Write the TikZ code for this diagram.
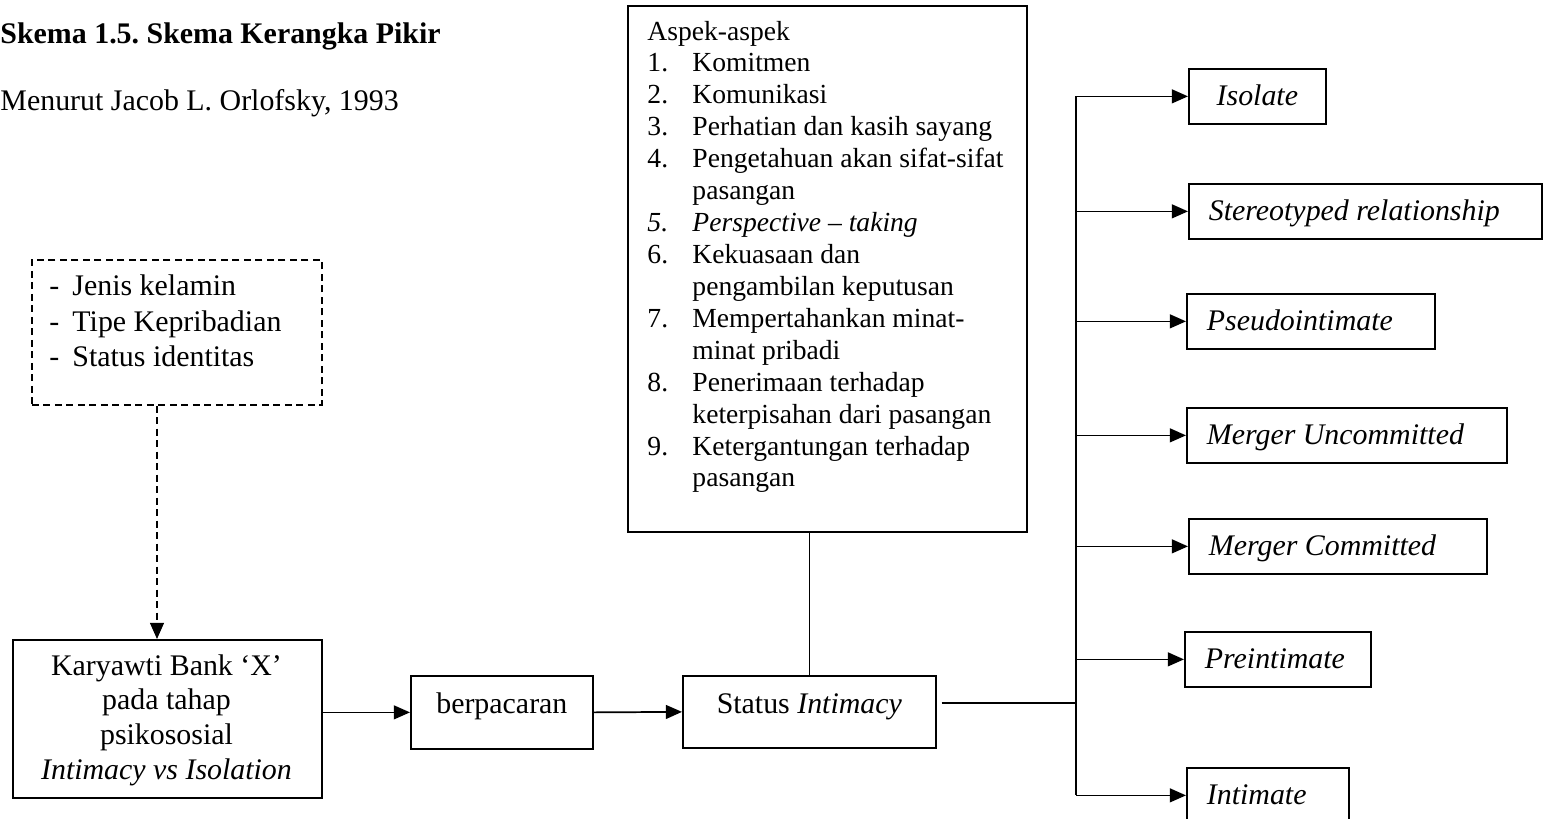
\documentclass[tikz,border=0pt]{standalone}
\usepackage{fontspec}
\setmainfont{Liberation Serif}
\usetikzlibrary{arrows.meta}
\frenchspacing
\def\PX{0.4348pt}
\newcommand\aspnum[1]{\makebox[19.57pt][l]{#1}}
\newcommand\aspind{\hspace*{19.57pt}}
\newcommand\facdash{\makebox[10pt][l]{-}}
\tikzset{
  box/.style={draw, line width=0.75pt, inner sep=0pt, anchor=north west},
  facbox/.style={box, dash pattern=on 3pt off 2pt},
  ln/.style={line width=0.75pt},
  arr/.style={line width=0.75pt, -{Triangle[length=7pt,width=6pt]}},
  rb/.style={box, font=\itshape\fontsize{13}{15}\selectfont, minimum height=23.91pt,
    inner xsep=8.7pt, inner ysep=0pt, text height=8.26pt, text depth=0pt, align=flush left},
}
\begin{document}
\begin{tikzpicture}[x=\PX, y=-\PX, font=\fontsize{13}{15}\selectfont]
\clip (0,0) rectangle (1543,818);

% titles
\node[anchor=base west, inner sep=0pt, font=\bfseries\fontsize{13}{15}\selectfont] (title) at (0,43) {Skema 1.5. Skema Kerangka Pikir};
\node[anchor=base west, inner sep=0pt] (sub) at (0,110) {Menurut Jacob L. Orlofsky, 1993};

% dashed factors box
\node[facbox, minimum width=126.09pt, minimum height=63.05pt] (fac) at (31,259) {};
\node[anchor=base west, inner sep=0pt] (factxt) at (49,295) {\parbox[t]{113pt}{\fontsize{13}{15.65}\selectfont
  \facdash Jenis kelamin\\
  \facdash Tipe Kepribadian\\
  \facdash Status identitas}};

% left box
\node[box, minimum width=134.35pt, minimum height=68.70pt] (kar) at (12,639) {};
\node[anchor=base, inner sep=0pt] (kartxt) at (166.5,675) {\parbox[t]{130pt}{\centering\fontsize{13}{15.2}\selectfont
  Karyawti Bank ‘X’\\ pada tahap\\ psikososial\\ \textit{Intimacy vs Isolation}}};

% berpacaran
\node[box, minimum width=79.13pt, minimum height=31.74pt, text height=1.3pt, text depth=0pt] (pac) at (410,675) {berpacaran};

% status
\node[box, minimum width=110.0pt, minimum height=31.31pt, text height=1.74pt, text depth=0pt] (stat) at (682,675) {Status \textit{Intimacy}};

% aspects box
\node[box, minimum width=173.49pt, minimum height=228.71pt] (asp) at (627,5) {};
\node[anchor=base west, inner sep=0pt] (asptxt) at (647,40) {\parbox[t]{165pt}{\raggedright\fontsize{12}{13.88}\selectfont
  Aspek-aspek\\
  \aspnum{1.}Komitmen\\
  \aspnum{2.}Komunikasi\\
  \aspnum{3.}Perhatian dan kasih sayang\\
  \aspnum{4.}Pengetahuan akan sifat-sifat\\
  \aspind pasangan\\
  \textit{\aspnum{5.}Perspective – taking}\\
  \aspnum{6.}Kekuasaan dan\\
  \aspind pengambilan keputusan\\
  \aspnum{7.}Mempertahankan minat-\\
  \aspind minat pribadi\\
  \aspnum{8.}Penerimaan terhadap\\
  \aspind keterpisahan dari pasangan\\
  \aspnum{9.}Ketergantungan terhadap\\
  \aspind pasangan}};

% right boxes
\node[rb, align=flush center, text width=42.17pt, minimum width=59.57pt] (iso) at (1188,68) {Isolate};
\node[rb, text width=136.08pt] (ster) at (1188,183) {Stereotyped relationship};
\node[rb, text width=90.43pt] (pseu) at (1186,293) {Pseudointimate};
\node[rb, text width=121.73pt] (mu) at (1186,407) {Merger Uncommitted};
\node[rb, text width=112.17pt] (mc) at (1188,518) {Merger Committed};
\node[rb, text width=63.47pt] (pre) at (1184,631) {Preintimate};
\node[rb, text width=53.04pt] (int) at (1186,767) {Intimate};

% connectors
\coordinate (dx) at (157,0);
\draw[arr, dash pattern=on 3pt off 2pt] (fac.south -| dx) -- (kar.north -| dx);
\draw[arr] (kar.east |- pac.west) -- (pac.west);
\draw[arr] (pac.east) -- (stat.west);
\draw[ln] (asp.south -| stat.north) -- (stat.north);

\coordinate (j) at (1076,703);
\coordinate (sx) at ([xshift=2.17pt]stat.east);
\draw[ln] (sx |- j) -- (j);
\draw[ln] (j |- iso.west) -- (j |- int.west);
\foreach \n in {iso,ster,pseu,mu,mc,pre,int}
  \draw[arr] (j |- \n.west) -- (\n.west);
\end{tikzpicture}
\end{document}
